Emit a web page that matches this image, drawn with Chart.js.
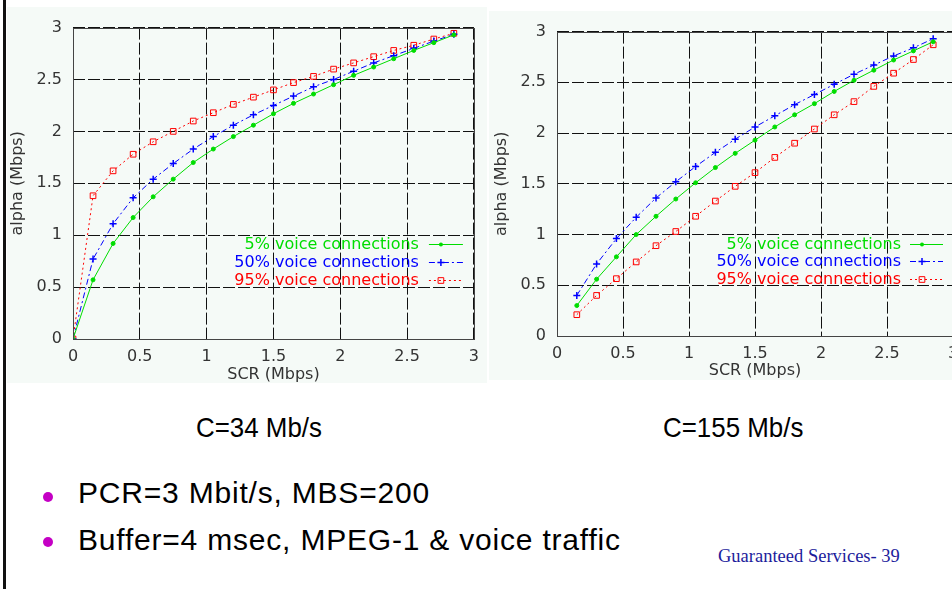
<!DOCTYPE html>
<html>
<head>
<meta charset="utf-8">
<script src="https://cdn.jsdelivr.net/npm/chart.js@4.4.1/dist/chart.umd.min.js"></script>
<style>
  html, body { margin: 0; padding: 0; background: #fff; }
  body { width: 952px; height: 589px; overflow: hidden; position: relative; font-family: "Liberation Sans", Arial, sans-serif; }
  canvas { position: absolute; background: #f5faf7; }
  .edge { position: absolute; left: 3px; top: 0; width: 3px; height: 589px; background: #111; }
  .cap { position: absolute; font-size: 28px; line-height: 28px; color: #000; white-space: nowrap; transform: scaleX(0.925); transform-origin: left top; }
  .bullet { position: absolute; font-size: 30px; line-height: 30px; letter-spacing: 0.8px; color: #000; white-space: nowrap; }
  .dot { position: absolute; width: 10px; height: 10px; border-radius: 50%; background: #c400c4; }
  .foot { position: absolute; font-family: "Liberation Serif", "Times New Roman", serif; font-size: 18.5px; line-height: 19px; color: #1c1c9c; white-space: nowrap; }
</style>
</head>
<body>
<div class="edge"></div>
<canvas id="c34" width="480" height="376" style="left:7px;top:7px"></canvas>
<canvas id="c155" width="480" height="369" style="left:489px;top:11px"></canvas>

<div class="cap" style="left:196px;top:414px">C=34 Mb/s</div>
<div class="cap" style="left:663px;top:414px">C=155 Mb/s</div>

<div class="dot" style="left:43px;top:492px"></div>
<div class="bullet" style="left:78px;top:478px">PCR=3 Mbit/s, MBS=200</div>
<div class="dot" style="left:43px;top:537px"></div>
<div class="bullet" style="left:78px;top:525px">Buffer=4 msec, MPEG-1 &amp; voice traffic</div>
<div class="foot" style="left:718px;top:547px">Guaranteed Services- 39</div>

<script>
// SCR (Mbps) sample points
const scr34 = [0, 0.15, 0.3, 0.45, 0.6, 0.75, 0.9, 1.05, 1.2, 1.35, 1.5, 1.65, 1.8, 1.95, 2.1, 2.25, 2.4, 2.55, 2.7, 2.85];
const scr155 = [0.15, 0.3, 0.45, 0.6, 0.75, 0.9, 1.05, 1.2, 1.35, 1.5, 1.65, 1.8, 1.95, 2.1, 2.25, 2.4, 2.55, 2.7, 2.85];

// alpha (Mbps), C=34 Mb/s
const c34Voice5 = [0, 0.57, 0.92, 1.17, 1.37, 1.54, 1.70, 1.83, 1.95, 2.06, 2.17, 2.27, 2.36, 2.45, 2.54, 2.62, 2.70, 2.78, 2.855, 2.93];
const c34Voice50 = [0, 0.77, 1.11, 1.36, 1.54, 1.69, 1.83, 1.95, 2.06, 2.16, 2.25, 2.34, 2.43, 2.50, 2.58, 2.66, 2.73, 2.80, 2.87, 2.935];
const c34Voice95 = [0, 1.38, 1.62, 1.78, 1.90, 2.00, 2.10, 2.18, 2.26, 2.33, 2.40, 2.47, 2.53, 2.60, 2.66, 2.72, 2.78, 2.83, 2.89, 2.945];

// alpha (Mbps), C=155 Mb/s
const c155Voice5 = [0.30, 0.56, 0.78, 1.00, 1.18, 1.35, 1.51, 1.66, 1.80, 1.93, 2.06, 2.18, 2.29, 2.41, 2.52, 2.62, 2.72, 2.81, 2.90];
const c155Voice50 = [0.40, 0.71, 0.96, 1.17, 1.36, 1.52, 1.67, 1.81, 1.94, 2.06, 2.17, 2.28, 2.38, 2.48, 2.58, 2.67, 2.76, 2.84, 2.93];
const c155Voice95 = [0.21, 0.40, 0.565, 0.73, 0.89, 1.03, 1.18, 1.33, 1.475, 1.61, 1.76, 1.90, 2.04, 2.18, 2.31, 2.46, 2.59, 2.725, 2.87];

const seriesLabels = ["5% voice connections", "50% voice connections", "95% voice connections"];
const axisTicks = [0, 0.5, 1, 1.5, 2, 2.5, 3];

const GREEN = "#00dd00", BLUE = "#0000ff", RED = "#ff0000";
const tickFont = { family: "DejaVu Sans", size: 16 };

function pts(xs, ys) {
  return xs.map((x, i) => ({ x: x, y: ys[i] }));
}

function marker(ctx, style, x, y, r, color) {
  ctx.save();
  ctx.setLineDash([]);
  ctx.strokeStyle = color;
  ctx.fillStyle = color;
  ctx.lineWidth = 1;
  ctx.beginPath();
  if (style === "cross") {
    ctx.lineWidth = 1.5;
    ctx.moveTo(x - r, y); ctx.lineTo(x + r, y);
    ctx.moveTo(x, y - r); ctx.lineTo(x, y + r);
    ctx.stroke();
  } else if (style === "rect") {
    const s = r * Math.SQRT1_2;
    ctx.rect(x - s, y - s, 2 * s, 2 * s);
    ctx.stroke();
  } else {
    ctx.arc(x, y, r, 0, Math.PI * 2);
    ctx.fill();
  }
  ctx.restore();
}

// gnuplot-like key: right-aligned label, then a line sample with its marker
const gnuKey = {
  id: "gnuKey",
  afterDraw(chart, args, opts) {
    const ctx = chart.ctx, a = chart.chartArea;
    ctx.save();
    ctx.font = '16px "DejaVu Sans"';
    ctx.textAlign = "right";
    ctx.textBaseline = "middle";
    chart.data.datasets.forEach((ds, i) => {
      const y = Math.round(a.top + opts.top + i * opts.rowGap) + 0.5;
      ctx.fillStyle = ds.borderColor;
      ctx.fillText(ds.label, a.right - opts.textRight, y);
      const x0 = a.right - opts.sampleStart, x1 = a.right - opts.sampleEnd;
      ctx.strokeStyle = ds.borderColor;
      ctx.lineWidth = 1;
      ctx.setLineDash(ds.borderDash || []);
      ctx.beginPath();
      ctx.moveTo(x0, y);
      ctx.lineTo(x1, y);
      ctx.stroke();
      marker(ctx, ds.pointStyle, x0 + 12, y, ds.pointRadius, ds.borderColor);
    });
    ctx.restore();
  }
};

const frame = {
  id: "frame",
  afterDraw(chart) {
    const ctx = chart.ctx, a = chart.chartArea;
    ctx.save();
    ctx.strokeStyle = "#444";
    ctx.lineWidth = 1;
    ctx.strokeRect(Math.round(a.left) + 0.5, Math.round(a.top) + 0.5, Math.round(a.right - a.left), Math.round(a.bottom - a.top));
    ctx.restore();
  }
};

function datasets(xs, s5, s50, s95) {
  return [
    { label: seriesLabels[0], data: pts(xs, s5), borderColor: GREEN, borderWidth: 1, pointStyle: "circle", pointRadius: 2, pointBackgroundColor: GREEN, pointBorderColor: GREEN },
    { label: seriesLabels[1], data: pts(xs, s50), borderColor: BLUE, borderWidth: 1, borderDash: [6, 3, 2, 3], pointStyle: "cross", pointRadius: 3.5, pointBorderWidth: 1.5, pointBorderColor: BLUE },
    { label: seriesLabels[2], data: pts(xs, s95), borderColor: RED, borderWidth: 1, borderDash: [2, 3], pointStyle: "rect", pointRadius: 4, pointBorderWidth: 1, pointBorderColor: RED, pointBackgroundColor: "rgba(0,0,0,0)" }
  ];
}

function makeChart(id, sets, o) {
  new Chart(document.getElementById(id), {
    type: "line",
    data: { datasets: sets },
    options: {
      responsive: false,
      animation: false,
      devicePixelRatio: 1,
      layout: { padding: { left: 0, top: o.padTop, right: o.padRight, bottom: 0 } },
      elements: { line: { tension: 0 } },
      plugins: {
        legend: { display: false },
        tooltip: { enabled: false },
        gnuKey: o.key
      },
      scales: {
        x: {
          type: "linear", min: 0, max: 3,
          afterBuildTicks: s => { s.ticks = axisTicks.map(v => ({ value: v })); },
          afterFit: s => { s.height = o.xHeight; },
          ticks: { font: tickFont, color: "#333", padding: 8, autoSkip: false, maxRotation: 0, callback: v => String(v) },
          grid: { color: "#111", lineWidth: 1, drawTicks: false },
          border: { display: false, dash: [12, 3] },
          title: { display: true, text: "SCR (Mbps)", font: tickFont, color: "#333", padding: { top: 0, bottom: o.xTitlePad } }
        },
        y: {
          min: 0, max: 3,
          afterBuildTicks: s => { s.ticks = axisTicks.map(v => ({ value: v })); },
          afterFit: s => { s.width = o.yWidth; },
          ticks: { font: tickFont, color: "#333", padding: 11, callback: v => String(v) },
          grid: { color: "#111", lineWidth: 1, drawTicks: false },
          border: { display: false, dash: [12, 3] },
          title: { display: true, text: "alpha (Mbps)", font: tickFont, color: "#333", padding: { top: o.yTitlePad, bottom: 0 } }
        }
      }
    },
    plugins: [frame, gnuKey]
  });
}

makeChart("c34", datasets(scr34, c34Voice5, c34Voice50, c34Voice95), {
  padTop: 9, padRight: 9, xHeight: 44, yWidth: 66, xTitlePad: -1, yTitlePad: 1,
  key: { top: 216, rowGap: 18, textRight: 55, sampleStart: 45, sampleEnd: 11 }
});
makeChart("c155", datasets(scr155, c155Voice5, c155Voice50, c155Voice95), {
  padTop: 8, padRight: 16, xHeight: 44, yWidth: 68, xTitlePad: 0, yTitlePad: 3,
  key: { top: 212, rowGap: 17.5, textRight: 52, sampleStart: 43, sampleEnd: 10 }
});
</script>
</body>
</html>
